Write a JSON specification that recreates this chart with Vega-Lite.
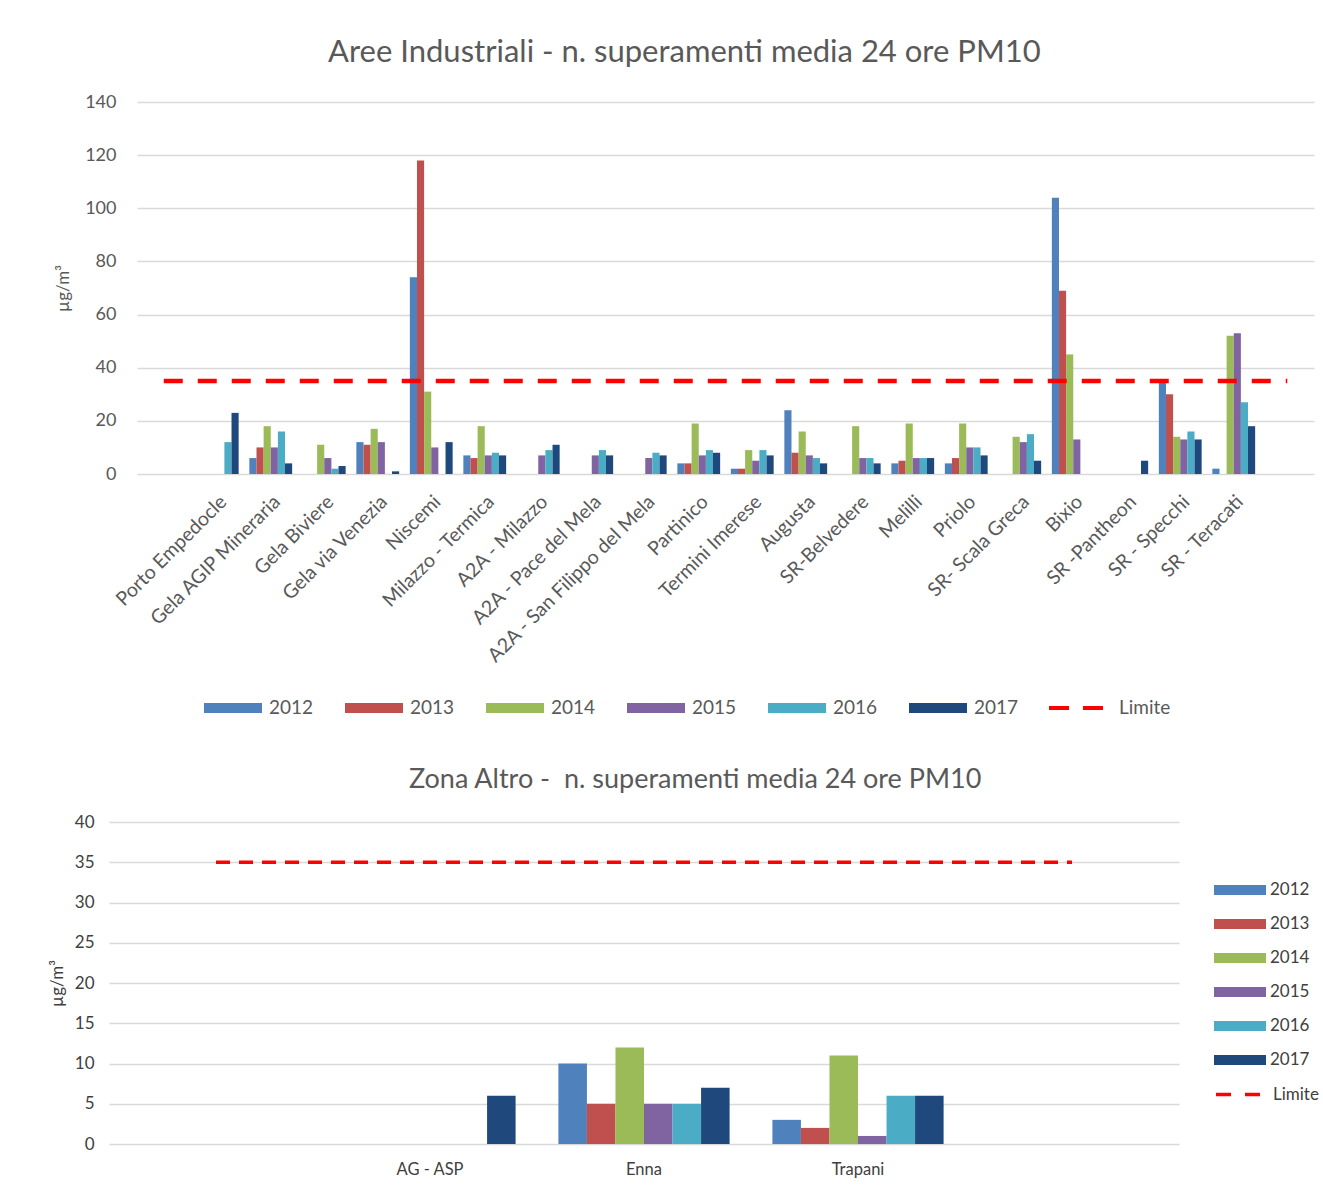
{
  "$schema": "https://vega.github.io/schema/vega-lite/v6.json",
  "background": "white",
  "padding": {"left": 48, "top": 37, "right": 5, "bottom": 5},
  "config": {
    "font": "Lato",
    "view": {"stroke": null},
    "axis": {"labelColor": "#595959", "titleColor": "#595959", "labelFontSize": 18, "titleFontSize": 17, "titleFontWeight": "normal", "ticks": false, "domain": false, "gridColor": "#D9D9D9", "gridWidth": 1.5},
    "legend": {"labelColor": "#595959", "labelFontSize": 19, "title": null, "layout": {"bottom": {"anchor": "middle", "margin": 28}, "right": {"anchor": "middle", "direction": "vertical", "margin": 2}}},
    "title": {"color": "#595959", "fontWeight": "normal"}
  },
  "datasets": {
    "top": [
      {"stazione": "Porto Empedocle", "anno": "2016", "valore": 12},
      {"stazione": "Porto Empedocle", "anno": "2017", "valore": 23},
      {"stazione": "Gela AGIP Mineraria", "anno": "2012", "valore": 6},
      {"stazione": "Gela AGIP Mineraria", "anno": "2013", "valore": 10},
      {"stazione": "Gela AGIP Mineraria", "anno": "2014", "valore": 18},
      {"stazione": "Gela AGIP Mineraria", "anno": "2015", "valore": 10},
      {"stazione": "Gela AGIP Mineraria", "anno": "2016", "valore": 16},
      {"stazione": "Gela AGIP Mineraria", "anno": "2017", "valore": 4},
      {"stazione": "Gela Biviere", "anno": "2014", "valore": 11},
      {"stazione": "Gela Biviere", "anno": "2015", "valore": 6},
      {"stazione": "Gela Biviere", "anno": "2016", "valore": 2},
      {"stazione": "Gela Biviere", "anno": "2017", "valore": 3},
      {"stazione": "Gela via Venezia", "anno": "2012", "valore": 12},
      {"stazione": "Gela via Venezia", "anno": "2013", "valore": 11},
      {"stazione": "Gela via Venezia", "anno": "2014", "valore": 17},
      {"stazione": "Gela via Venezia", "anno": "2015", "valore": 12},
      {"stazione": "Gela via Venezia", "anno": "2017", "valore": 1},
      {"stazione": "Niscemi", "anno": "2012", "valore": 74},
      {"stazione": "Niscemi", "anno": "2013", "valore": 118},
      {"stazione": "Niscemi", "anno": "2014", "valore": 31},
      {"stazione": "Niscemi", "anno": "2015", "valore": 10},
      {"stazione": "Niscemi", "anno": "2017", "valore": 12},
      {"stazione": "Milazzo - Termica", "anno": "2012", "valore": 7},
      {"stazione": "Milazzo - Termica", "anno": "2013", "valore": 6},
      {"stazione": "Milazzo - Termica", "anno": "2014", "valore": 18},
      {"stazione": "Milazzo - Termica", "anno": "2015", "valore": 7},
      {"stazione": "Milazzo - Termica", "anno": "2016", "valore": 8},
      {"stazione": "Milazzo - Termica", "anno": "2017", "valore": 7},
      {"stazione": "A2A - Milazzo", "anno": "2015", "valore": 7},
      {"stazione": "A2A - Milazzo", "anno": "2016", "valore": 9},
      {"stazione": "A2A - Milazzo", "anno": "2017", "valore": 11},
      {"stazione": "A2A - Pace del Mela", "anno": "2015", "valore": 7},
      {"stazione": "A2A - Pace del Mela", "anno": "2016", "valore": 9},
      {"stazione": "A2A - Pace del Mela", "anno": "2017", "valore": 7},
      {"stazione": "A2A - San Filippo del Mela", "anno": "2015", "valore": 6},
      {"stazione": "A2A - San Filippo del Mela", "anno": "2016", "valore": 8},
      {"stazione": "A2A - San Filippo del Mela", "anno": "2017", "valore": 7},
      {"stazione": "Partinico", "anno": "2012", "valore": 4},
      {"stazione": "Partinico", "anno": "2013", "valore": 4},
      {"stazione": "Partinico", "anno": "2014", "valore": 19},
      {"stazione": "Partinico", "anno": "2015", "valore": 7},
      {"stazione": "Partinico", "anno": "2016", "valore": 9},
      {"stazione": "Partinico", "anno": "2017", "valore": 8},
      {"stazione": "Termini Imerese", "anno": "2012", "valore": 2},
      {"stazione": "Termini Imerese", "anno": "2013", "valore": 2},
      {"stazione": "Termini Imerese", "anno": "2014", "valore": 9},
      {"stazione": "Termini Imerese", "anno": "2015", "valore": 5},
      {"stazione": "Termini Imerese", "anno": "2016", "valore": 9},
      {"stazione": "Termini Imerese", "anno": "2017", "valore": 7},
      {"stazione": "Augusta", "anno": "2012", "valore": 24},
      {"stazione": "Augusta", "anno": "2013", "valore": 8},
      {"stazione": "Augusta", "anno": "2014", "valore": 16},
      {"stazione": "Augusta", "anno": "2015", "valore": 7},
      {"stazione": "Augusta", "anno": "2016", "valore": 6},
      {"stazione": "Augusta", "anno": "2017", "valore": 4},
      {"stazione": "SR-Belvedere", "anno": "2014", "valore": 18},
      {"stazione": "SR-Belvedere", "anno": "2015", "valore": 6},
      {"stazione": "SR-Belvedere", "anno": "2016", "valore": 6},
      {"stazione": "SR-Belvedere", "anno": "2017", "valore": 4},
      {"stazione": "Melilli", "anno": "2012", "valore": 4},
      {"stazione": "Melilli", "anno": "2013", "valore": 5},
      {"stazione": "Melilli", "anno": "2014", "valore": 19},
      {"stazione": "Melilli", "anno": "2015", "valore": 6},
      {"stazione": "Melilli", "anno": "2016", "valore": 6},
      {"stazione": "Melilli", "anno": "2017", "valore": 6},
      {"stazione": "Priolo", "anno": "2012", "valore": 4},
      {"stazione": "Priolo", "anno": "2013", "valore": 6},
      {"stazione": "Priolo", "anno": "2014", "valore": 19},
      {"stazione": "Priolo", "anno": "2015", "valore": 10},
      {"stazione": "Priolo", "anno": "2016", "valore": 10},
      {"stazione": "Priolo", "anno": "2017", "valore": 7},
      {"stazione": "SR- Scala Greca", "anno": "2014", "valore": 14},
      {"stazione": "SR- Scala Greca", "anno": "2015", "valore": 12},
      {"stazione": "SR- Scala Greca", "anno": "2016", "valore": 15},
      {"stazione": "SR- Scala Greca", "anno": "2017", "valore": 5},
      {"stazione": "Bixio", "anno": "2012", "valore": 104},
      {"stazione": "Bixio", "anno": "2013", "valore": 69},
      {"stazione": "Bixio", "anno": "2014", "valore": 45},
      {"stazione": "Bixio", "anno": "2015", "valore": 13},
      {"stazione": "SR -Pantheon", "anno": "2017", "valore": 5},
      {"stazione": "SR - Specchi", "anno": "2012", "valore": 35},
      {"stazione": "SR - Specchi", "anno": "2013", "valore": 30},
      {"stazione": "SR - Specchi", "anno": "2014", "valore": 14},
      {"stazione": "SR - Specchi", "anno": "2015", "valore": 13},
      {"stazione": "SR - Specchi", "anno": "2016", "valore": 16},
      {"stazione": "SR - Specchi", "anno": "2017", "valore": 13},
      {"stazione": "SR - Teracati", "anno": "2012", "valore": 2},
      {"stazione": "SR - Teracati", "anno": "2014", "valore": 52},
      {"stazione": "SR - Teracati", "anno": "2015", "valore": 53},
      {"stazione": "SR - Teracati", "anno": "2016", "valore": 27},
      {"stazione": "SR - Teracati", "anno": "2017", "valore": 18}
    ],
    "topLim": [
      {"stazione": "", "serie": "Limite", "valore": 35},
      {"stazione": " ", "serie": "Limite", "valore": 35}
    ],
    "bot": [
      {"stazione": "AG - ASP", "anno": "2017", "valore": 6},
      {"stazione": "Enna", "anno": "2012", "valore": 10},
      {"stazione": "Enna", "anno": "2013", "valore": 5},
      {"stazione": "Enna", "anno": "2014", "valore": 12},
      {"stazione": "Enna", "anno": "2015", "valore": 5},
      {"stazione": "Enna", "anno": "2016", "valore": 5},
      {"stazione": "Enna", "anno": "2017", "valore": 7},
      {"stazione": "Trapani", "anno": "2012", "valore": 3},
      {"stazione": "Trapani", "anno": "2013", "valore": 2},
      {"stazione": "Trapani", "anno": "2014", "valore": 11},
      {"stazione": "Trapani", "anno": "2015", "valore": 1},
      {"stazione": "Trapani", "anno": "2016", "valore": 6},
      {"stazione": "Trapani", "anno": "2017", "valore": 6}
    ],
    "botLim": [
      {"stazione": "", "serie": "Limite", "valore": 35},
      {"stazione": " ", "serie": "Limite", "valore": 35}
    ]
  },
  "resolve": {
    "scale": {"x": "independent", "y": "independent", "color": "independent", "stroke": "independent", "xOffset": "independent"},
    "legend": {"color": "independent", "stroke": "independent"}
  },
  "center": true,
  "spacing": 48,
  "vconcat": [
    {
      "width": 1177,
      "height": 372,
      "title": {"text": "Aree Industriali - n. superamenti media 24 ore PM10", "fontSize": 31, "offset": 24, "frame": "bounds"},
      "layer": [
        {
          "data": {"name": "top"},
          "mark": {"type": "bar"},
          "encoding": {
            "x": {
              "field": "stazione", "type": "nominal",
              "scale": {"domain": ["", "Porto Empedocle", "Gela AGIP Mineraria", "Gela Biviere", "Gela via Venezia", "Niscemi", "Milazzo - Termica", "A2A - Milazzo", "A2A - Pace del Mela", "A2A - San Filippo del Mela", "Partinico", "Termini Imerese", "Augusta", "SR-Belvedere", "Melilli", "Priolo", "SR- Scala Greca", "Bixio", "SR -Pantheon", "SR - Specchi", "SR - Teracati", " "], "paddingInner": 0.2, "paddingOuter": 0.1},
              "axis": {"title": null, "labelAngle": -45, "labelPadding": 18, "labelFontSize": 19.5, "labelLimit": 400, "grid": false}
            },
            "xOffset": {"field": "anno", "type": "nominal", "scale": {"domain": ["2012", "2013", "2014", "2015", "2016", "2017"]}},
            "y": {
              "field": "valore", "type": "quantitative",
              "scale": {"domain": [0, 140]},
              "axis": {"values": [0, 20, 40, 60, 80, 100, 120, 140], "title": "µg/m³", "labelPadding": 21, "titlePadding": 12}
            },
            "color": {
              "field": "anno", "type": "nominal",
              "scale": {"domain": ["2012", "2013", "2014", "2015", "2016", "2017"], "range": ["#4F81BD", "#C0504D", "#9BBB59", "#8064A2", "#4BACC6", "#1F497D"]},
              "legend": {"orient": "bottom", "direction": "horizontal", "symbolType": "M-1,-0.17H1V0.17H-1Z", "symbolSize": 3364, "symbolStrokeWidth": 0, "columnPadding": 31, "labelOffset": 7, "offset": 13}
            }
          }
        },
        {
          "data": {"name": "topLim"},
          "mark": {"type": "line", "strokeDash": [19, 15], "strokeWidth": 4.5},
          "encoding": {
            "x": {"field": "stazione", "type": "nominal"},
            "y": {"field": "valore", "type": "quantitative"},
            "stroke": {
              "field": "serie", "type": "nominal",
              "scale": {"range": ["#FF0000"]},
              "legend": {"orient": "bottom", "direction": "horizontal", "symbolType": "stroke", "symbolSize": 2916, "symbolStrokeWidth": 4, "symbolDash": [20, 14], "labelOffset": 14, "offset": 13, "title": " ", "titleOrient": "right", "titlePadding": 77}
            }
          }
        }
      ]
    },
    {
      "width": 1070,
      "height": 322,
      "title": {"text": "Zona Altro - \u00a0n. superamenti media 24 ore PM10", "fontSize": 27, "offset": 19, "frame": "bounds"},
      "layer": [
        {
          "data": {"name": "bot"},
          "mark": {"type": "bar"},
          "encoding": {
            "x": {
              "field": "stazione", "type": "nominal",
              "scale": {"domain": ["", "AG - ASP", "Enna", "Trapani", " "], "paddingInner": 0.2, "paddingOuter": 0.1},
              "axis": {"title": null, "labelAngle": 0, "labelPadding": 17, "grid": false, "labelColor": "#404040", "labelFontSize": 16.5}
            },
            "xOffset": {"field": "anno", "type": "nominal", "scale": {"domain": ["2012", "2013", "2014", "2015", "2016", "2017"]}},
            "y": {
              "field": "valore", "type": "quantitative",
              "scale": {"domain": [0, 40]},
              "axis": {"values": [0, 5, 10, 15, 20, 25, 30, 35, 40], "title": "µg/m³", "labelPadding": 15, "titlePadding": 8, "labelColor": "#404040", "titleColor": "#404040", "labelFontSize": 17}
            },
            "color": {
              "field": "anno", "type": "nominal",
              "scale": {"domain": ["2012", "2013", "2014", "2015", "2016", "2017"], "range": ["#4F81BD", "#C0504D", "#9BBB59", "#8064A2", "#4BACC6", "#1F497D"]},
              "legend": {"orient": "right", "direction": "vertical", "symbolType": "M-1,-0.19H1V0.19H-1Z", "symbolSize": 2704, "symbolStrokeWidth": 0, "rowPadding": -16, "offset": 35, "labelFontSize": 17, "labelColor": "#404040"}
            }
          }
        },
        {
          "data": {"name": "botLim"},
          "mark": {"type": "line", "strokeDash": [14, 9], "strokeWidth": 3.5},
          "encoding": {
            "x": {"field": "stazione", "type": "nominal"},
            "y": {"field": "valore", "type": "quantitative"},
            "stroke": {
              "field": "serie", "type": "nominal",
              "scale": {"range": ["#FF0000"]},
              "legend": {"orient": "right", "direction": "vertical", "symbolType": "stroke", "symbolSize": 2025, "symbolStrokeWidth": 3.5, "symbolDash": [15, 14], "labelOffset": 10, "offset": 35, "labelFontSize": 17, "labelColor": "#404040", "title": " ", "titleOrient": "right", "titlePadding": 23}
            }
          }
        }
      ]
    }
  ]
}
